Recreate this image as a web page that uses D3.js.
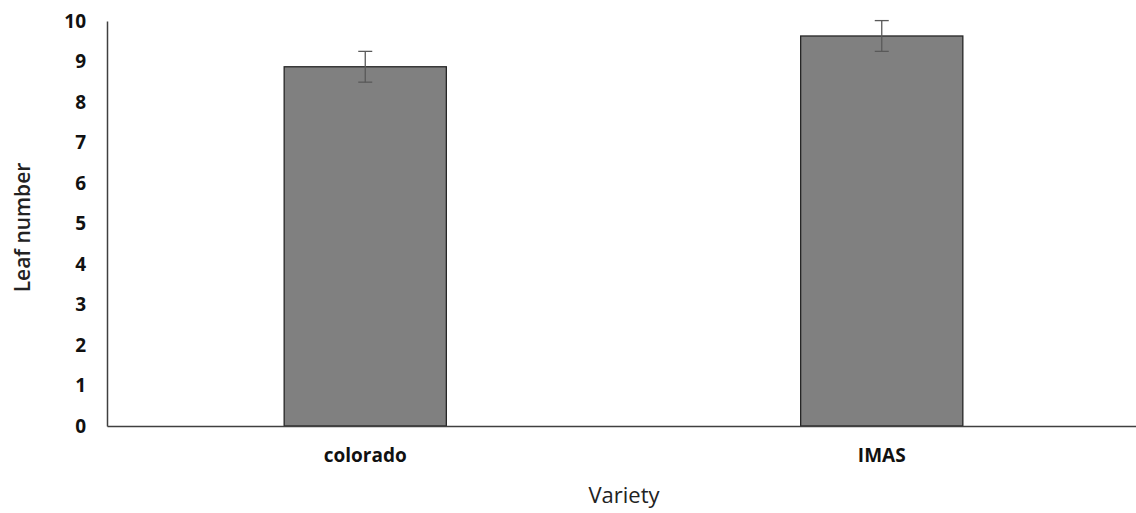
<!DOCTYPE html>
<html>
<head>
<meta charset="utf-8">
<script src="https://cdn.jsdelivr.net/npm/d3@7"></script>
<style>
  body { margin: 0; background: #fff; }
  svg text { font-family: "Open Sans", "Liberation Sans", sans-serif; }
</style>
</head>
<body>
<svg id="chart" width="1136" height="513"></svg>
<script>
// Data
const categories = ["colorado", "IMAS"];
const leafNumber = [8.87, 9.63];
const leafError = [0.38, 0.38];
const yTicks = [0, 1, 2, 3, 4, 5, 6, 7, 8, 9, 10];

const svg = d3.select("#chart");
const plotLeft = 107, plotRight = 1140, plotTop = 21, plotBottom = 426;

const x = d3.scaleBand()
  .domain(categories)
  .range([plotLeft, plotRight])
  .paddingInner(0.686)
  .paddingOuter(0.343);

const y = d3.scaleLinear().domain([0, 10]).range([plotBottom, plotTop]);

// Bars
svg.selectAll(".bar")
  .data(categories)
  .enter().append("rect")
  .attr("x", d => x(d))
  .attr("y", (d, i) => y(leafNumber[i]))
  .attr("width", x.bandwidth())
  .attr("height", (d, i) => y(0) - y(leafNumber[i]))
  .attr("fill", "#808080")
  .attr("stroke", "#262626")
  .attr("stroke-width", 1.3);

// Error bars
const cap = 7;
const err = svg.selectAll(".err")
  .data(categories)
  .enter().append("g")
  .attr("stroke", "#595959")
  .attr("stroke-width", 1.3);
err.append("line")
  .attr("x1", d => x(d) + x.bandwidth() / 2)
  .attr("x2", d => x(d) + x.bandwidth() / 2)
  .attr("y1", (d, i) => y(leafNumber[i] + leafError[i]))
  .attr("y2", (d, i) => y(leafNumber[i] - leafError[i]));
err.append("line")
  .attr("x1", d => x(d) + x.bandwidth() / 2 - cap)
  .attr("x2", d => x(d) + x.bandwidth() / 2 + cap)
  .attr("y1", (d, i) => y(leafNumber[i] + leafError[i]))
  .attr("y2", (d, i) => y(leafNumber[i] + leafError[i]));
err.append("line")
  .attr("x1", d => x(d) + x.bandwidth() / 2 - cap)
  .attr("x2", d => x(d) + x.bandwidth() / 2 + cap)
  .attr("y1", (d, i) => y(leafNumber[i] - leafError[i]))
  .attr("y2", (d, i) => y(leafNumber[i] - leafError[i]));

// Y axis
const yAxis = svg.append("g")
  .attr("transform", `translate(${plotLeft},0)`)
  .call(d3.axisLeft(y).tickValues(yTicks).tickSize(0).tickPadding(21).tickFormat(d3.format("d")));
yAxis.select(".domain").attr("stroke", "#404040").attr("stroke-width", 1.5);
yAxis.selectAll("text")
  .attr("font-size", 19).attr("font-weight", "bold").attr("fill", "#111");

// X axis
const xAxis = svg.append("g")
  .attr("transform", `translate(0,${plotBottom})`)
  .call(d3.axisBottom(x).tickSize(0).tickPadding(23));
xAxis.select(".domain").attr("stroke", "#404040").attr("stroke-width", 1.5);
xAxis.selectAll("text")
  .attr("font-size", 19).attr("font-weight", "bold").attr("fill", "#111");

// Axis titles
svg.append("text")
  .attr("x", 624)
  .attr("y", 503)
  .attr("text-anchor", "middle")
  .attr("font-size", 22)
  .attr("fill", "#222")
  .text("Variety");

svg.append("text")
  .attr("transform", `translate(30,${(plotTop + plotBottom) / 2 + 4}) rotate(-90)`)
  .attr("text-anchor", "middle")
  .attr("font-size", 21)
  .attr("font-weight", 600)
  .attr("fill", "#222")
  .text("Leaf number");
</script>
</body>
</html>
